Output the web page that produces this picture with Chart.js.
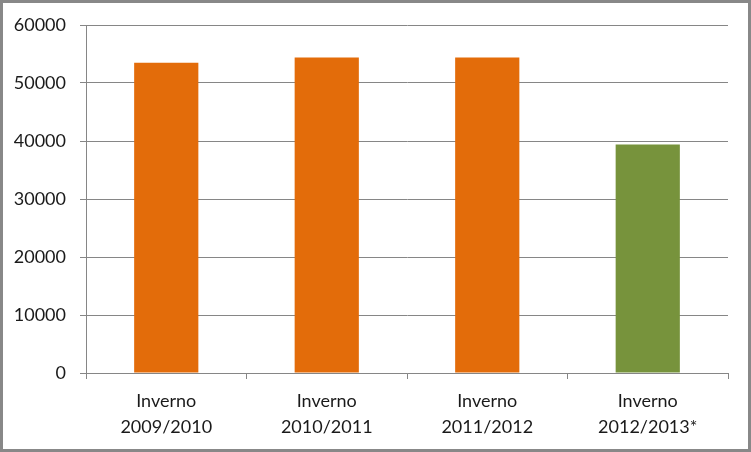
<!DOCTYPE html>
<html>
<head>
<meta charset="utf-8">
<script src="https://cdn.jsdelivr.net/npm/chart.js@4"></script>
<style>
  body { margin: 0; background: #fff; }
  #wrap { position: relative; width: 751px; height: 452px; }
  #frame { position: absolute; left: 0; top: 0; right: 0; bottom: 0; border: 3px solid #888; pointer-events: none; }
</style>
</head>
<body>
<div id="wrap">
  <canvas id="myChart" width="751" height="452"></canvas>
  <div id="frame"></div>
</div>
<script>
// data
const categories = [
    ['Inverno', '2009/2010'],
    ['Inverno', '2010/2011'],
    ['Inverno', '2011/2012'],
    ['Inverno', '2012/2013*']
];
const visitors = [53500, 54400, 54400, 39400];
const yTicks = [0, 10000, 20000, 30000, 40000, 50000, 60000];

// colours: last winter is partial, drawn green
const barColors = ['#E36C0A', '#E36C0A', '#E36C0A', '#77933C'];
const lineGray = '#868686';
const font = { family: 'Lato, "Open Sans", sans-serif', size: 18 };

const data = {
    labels: categories,
    datasets: [{
        data: visitors,
        backgroundColor: barColors,
        borderWidth: 0,
        barPercentage: 0.4,
        categoryPercentage: 1
    }]
};

const options = {
    responsive: false,
    animation: false,
    layout: { padding: { top: 25, right: 23, bottom: 0, left: 0 } },
    plugins: {
        legend: { display: false },
        tooltip: { enabled: false }
    },
    scales: {
        x: {
            grid: { drawOnChartArea: false, color: lineGray, tickLength: 6, offset: true },
            border: { color: lineGray },
            ticks: { color: '#1a1a1a', font: { ...font, lineHeight: '26px' }, padding: 9, maxRotation: 0 },
            afterFit: (scale) => { scale.height = 79; }
        },
        y: {
            min: 0,
            max: 60000,
            afterBuildTicks: (scale) => { scale.ticks = yTicks.map(v => ({ value: v })); },
            grid: { color: lineGray, tickLength: 6 },
            border: { color: lineGray },
            ticks: { color: '#1a1a1a', font: font, padding: 14, callback: (v) => String(v) },
            afterFit: (scale) => { scale.width = 86; }
        }
    }
};

const config = { type: 'bar', data, options };

const myChart = new Chart(document.getElementById('myChart'), config);
</script>
</body>
</html>
